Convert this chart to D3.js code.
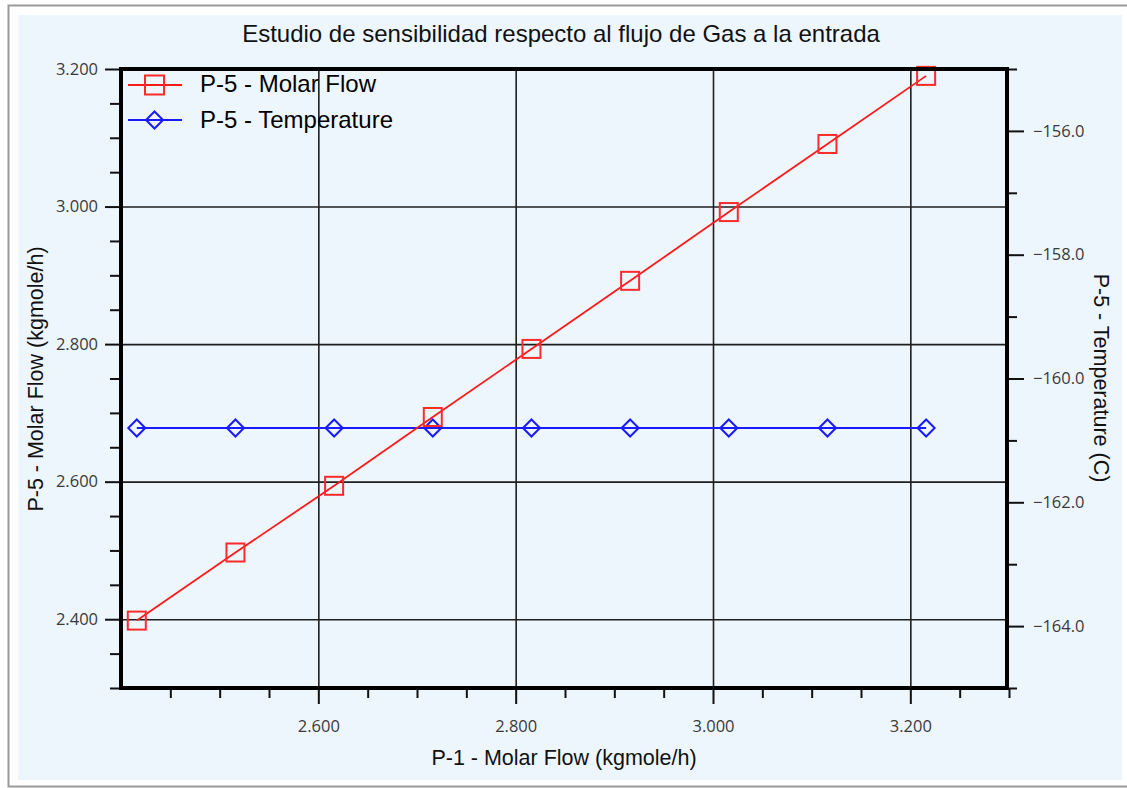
<!DOCTYPE html>
<html>
<head>
<meta charset="utf-8">
<script src="https://cdn.jsdelivr.net/npm/d3@7"></script>
<style>
  body { margin: 0; background: #fff; }
  svg { display: block; }
  .tick text { font-family: "Open Sans", sans-serif; font-size: 16.5px; fill: #3a3a3a; }
  .domain { display: none; }
</style>
</head>
<body>
<div id="chart"></div>
<script>
// data
var p1Flow = [2.416, 2.516, 2.616, 2.716, 2.816, 2.916, 3.016, 3.116, 3.216];
var p5Flow = [2.398, 2.497, 2.594, 2.694, 2.793, 2.892, 2.992, 3.091, 3.190];
var p5Temp = [-160.8, -160.8, -160.8, -160.8, -160.8, -160.8, -160.8, -160.8, -160.8];

var xMajor = [2.6, 2.8, 3.0, 3.2];
var xMinor = [2.45, 2.5, 2.55, 2.65, 2.7, 2.75, 2.85, 2.9, 2.95, 3.05, 3.1, 3.15, 3.25, 3.3];
var yMajor = [2.4, 2.6, 2.8, 3.0, 3.2];
var yMinor = [2.3, 2.35, 2.45, 2.5, 2.55, 2.65, 2.7, 2.75, 2.85, 2.9, 2.95, 3.05, 3.1, 3.15];
var tMajor = [-156, -158, -160, -162, -164];
var tMinor = [-155, -157, -159, -161, -163, -165];

var seriesNames = ["P-5 - Molar Flow", "P-5 - Temperature"];

var width = 1127,
    height = 788,
    plot = {left: 121, right: 1007, top: 69, bottom: 688};

var svg = d3.select("#chart").append("svg")
  .attr("width", width)
  .attr("height", height);

// window frame + panel
svg.append("rect").attr("x", 8.5).attr("y", 5.5).attr("width", 1130).attr("height", 781)
  .attr("fill", "#fff").attr("stroke", "#9a9a9a").attr("stroke-width", 2);
svg.append("rect").attr("x", 18).attr("y", 15).attr("width", 1104).attr("height", 765)
  .attr("fill", "#eef6fd");

var x = d3.scaleLinear().domain([2.4, 3.3]).range([plot.left, plot.left + 888]);
var y = d3.scaleLinear().domain([2.3, 3.2]).range([plot.bottom, plot.top]);
var yT = d3.scaleLinear().domain([-165, -155]).range([plot.bottom, plot.top]);

var fmt3 = d3.format(".3f"), fmt1 = d3.format(".1f");

// grid
svg.append("g").attr("transform", `translate(0,${plot.bottom})`)
  .call(d3.axisBottom(x).tickValues(xMajor).tickSize(-(plot.bottom - plot.top)).tickFormat(""))
  .call(g => g.selectAll("line").attr("stroke", "#1e1e1e").attr("stroke-width", 1.6));
svg.append("g").attr("transform", `translate(${plot.left},0)`)
  .call(d3.axisLeft(y).tickValues(yMajor).tickSize(-(plot.right - plot.left)).tickFormat(""))
  .call(g => g.selectAll("line").attr("stroke", "#1e1e1e").attr("stroke-width", 1.6));

// axes: minor ticks
svg.append("g").attr("transform", `translate(0,${plot.bottom})`)
  .call(d3.axisBottom(x).tickValues(xMinor).tickSize(10).tickFormat(""))
  .call(g => g.selectAll("line").attr("stroke", "#111").attr("stroke-width", 2));
svg.append("g").attr("transform", `translate(${plot.left},0)`)
  .call(d3.axisLeft(y).tickValues(yMinor).tickSize(11).tickFormat(""))
  .call(g => g.selectAll("line").attr("stroke", "#111").attr("stroke-width", 2));
svg.append("g").attr("transform", `translate(${plot.right},0)`)
  .call(d3.axisRight(yT).tickValues(tMinor).tickSize(10).tickFormat(""))
  .call(g => g.selectAll("line").attr("stroke", "#111").attr("stroke-width", 2));

// axes: major ticks with labels
svg.append("g").attr("transform", `translate(0,${plot.bottom})`)
  .call(d3.axisBottom(x).tickValues(xMajor).tickSize(16).tickPadding(16).tickFormat(fmt3))
  .call(g => g.selectAll("line").attr("stroke", "#111").attr("stroke-width", 2));
svg.append("g").attr("transform", `translate(${plot.left},0)`)
  .call(d3.axisLeft(y).tickValues(yMajor).tickSize(16).tickPadding(7).tickFormat(fmt3))
  .call(g => g.selectAll("line").attr("stroke", "#111").attr("stroke-width", 2));
svg.append("g").attr("transform", `translate(${plot.right},0)`)
  .call(d3.axisRight(yT).tickValues(tMajor).tickSize(17).tickPadding(9).tickFormat(fmt1))
  .call(g => g.selectAll("line").attr("stroke", "#111").attr("stroke-width", 2));

// series
var tempLine = d3.line().x((d, i) => x(p1Flow[i])).y(d => yT(d));
var flowLine = d3.line().x((d, i) => x(p1Flow[i])).y(d => y(d));

svg.append("path").datum(p5Temp).attr("d", tempLine)
  .attr("fill", "none").attr("stroke", "#1a1aff").attr("stroke-width", 1.8);
svg.selectAll(".diamond").data(p5Temp).enter().append("path")
  .attr("class", "diamond")
  .attr("transform", (d, i) => `translate(${x(p1Flow[i])},${yT(d)})`)
  .attr("d", "M0,-8.5L8.5,0L0,8.5L-8.5,0Z")
  .attr("fill", "none").attr("stroke", "#1a1aff").attr("stroke-width", 2);

svg.append("path").datum(p5Flow).attr("d", flowLine)
  .attr("fill", "none").attr("stroke", "#ff1a1a").attr("stroke-width", 1.8);
svg.selectAll(".square").data(p5Flow).enter().append("rect")
  .attr("class", "square")
  .attr("x", (d, i) => x(p1Flow[i]) - 9)
  .attr("y", d => y(d) - 9)
  .attr("width", 18).attr("height", 18)
  .attr("fill", "none").attr("stroke", "#ff2a2a").attr("stroke-width", 2);

// plot border
svg.append("rect")
  .attr("x", plot.left).attr("y", plot.top)
  .attr("width", plot.right - plot.left).attr("height", plot.bottom - plot.top)
  .attr("fill", "none").attr("stroke", "#000").attr("stroke-width", 4);

// legend
var legend = svg.append("g").attr("font-family", "Liberation Sans, Arial, sans-serif").attr("font-size", 24);
legend.append("line").attr("x1", 128).attr("x2", 182).attr("y1", 85).attr("y2", 85)
  .attr("stroke", "#ff1a1a").attr("stroke-width", 1.8);
legend.append("rect").attr("x", 145).attr("y", 75.5).attr("width", 19).attr("height", 19)
  .attr("fill", "none").attr("stroke", "#ff2a2a").attr("stroke-width", 2);
legend.append("text").attr("x", 200).attr("y", 92).text(seriesNames[0]);
legend.append("line").attr("x1", 128).attr("x2", 182).attr("y1", 120).attr("y2", 120)
  .attr("stroke", "#1a1aff").attr("stroke-width", 1.8);
legend.append("path").attr("transform", "translate(154.5,120)").attr("d", "M0,-8.5L8.5,0L0,8.5L-8.5,0Z")
  .attr("fill", "none").attr("stroke", "#1a1aff").attr("stroke-width", 2);
legend.append("text").attr("x", 200).attr("y", 128).text(seriesNames[1]);

// titles
var labels = svg.append("g").attr("font-family", "Liberation Sans, Arial, sans-serif").attr("fill", "#111");
labels.append("text").attr("x", 561).attr("y", 42).attr("text-anchor", "middle")
  .attr("font-size", 24).text("Estudio de sensibilidad respecto al flujo de Gas a la entrada");
labels.append("text").attr("x", 564).attr("y", 765).attr("text-anchor", "middle")
  .attr("font-size", 21.5).text("P-1 - Molar Flow (kgmole/h)");
labels.append("text").attr("transform", "translate(43,379) rotate(-90)").attr("text-anchor", "middle")
  .attr("font-size", 21.5).text("P-5 - Molar Flow (kgmole/h)");
labels.append("text").attr("transform", "translate(1094,378) rotate(90)").attr("text-anchor", "middle")
  .attr("font-size", 21.5).text("P-5 - Temperature (C)");
</script>
</body>
</html>
